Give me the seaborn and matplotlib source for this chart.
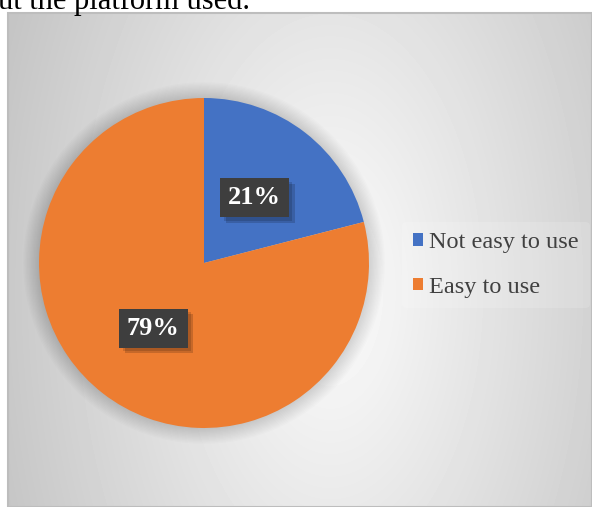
import numpy as np
import matplotlib
matplotlib.use("Agg")
import matplotlib.pyplot as plt
import seaborn as sns
from matplotlib.patches import Circle, Rectangle
import matplotlib.patheffects as pe

categories = ["Not easy to use", "Easy to use"]
values = [21, 79]
colors = ["#4472C4", "#ED7D31"]

sns.set_theme(style="white")
plt.rcParams['font.family'] = ['Liberation Serif', 'DejaVu Serif']

W, H = 592, 507
fig = plt.figure(figsize=(W / 100, H / 100), dpi=100)
fig.patch.set_facecolor("white")

# chart area background with radial gradient
x0, y0 = 8, 13
bg = fig.add_axes([x0 / W, 0, (W - x0) / W, (H - y0) / H])
yy, xx = np.mgrid[y0:H, x0:W]
cx, cy, rx, ry = 330, 290, 320, 580
t = np.sqrt(((xx - cx) / rx) ** 2 + ((yy - cy) / ry) ** 2)
t = np.clip(t / 1.1, 0, 1)
lo, hi = 0.77, 0.99
img = hi - (hi - lo) * t
bg.imshow(img, cmap="gray", vmin=0, vmax=1, aspect="auto",
          extent=[0, 1, 0, 1], interpolation="bilinear")
bg.set_xlim(0, 1)
bg.set_ylim(0, 1)
bg.axis("off")
bg.add_patch(Rectangle((0, 0), 1, 1, transform=bg.transAxes, fill=False,
                       edgecolor="#bdbdbd", linewidth=1.5, clip_on=False))

# caption fragment above chart
fig.text(-0.004, 1 - 9 / H, "ut the platform used.", fontsize=22,
         color="black", va="baseline", ha="left")

# pie
pcx, pcy, r = 204, H - 263, 165
ax = fig.add_axes([(pcx - r) / W, (pcy - r) / H, 2 * r / W, 2 * r / H])
ax.set_facecolor("none")
for i in range(12):
    ax.add_patch(Circle((0.0, 0.0), 1.0 + 0.008 * (12 - i), color="black",
                        alpha=0.012, linewidth=0, zorder=0, clip_on=False))
wedges, texts, autotexts = ax.pie(values, colors=colors, startangle=90,
                                  counterclock=False, autopct="%1.0f%%",
                                  pctdistance=0.5,
                                  wedgeprops=dict(linewidth=0))
ax.set_xlim(-1, 1)
ax.set_ylim(-1, 1)
ax.set_aspect("equal")
ax.axis("off")

for at in autotexts:
    at.set_fontsize(19)
    at.set_fontweight("bold")
    at.set_color("white")
    at.set_bbox(dict(boxstyle="square,pad=0.3", facecolor="#3e3e3e",
                     linewidth=0))
    at.get_bbox_patch().set_path_effects([
        pe.SimplePatchShadow(offset=(4, -4), shadow_rgbFace="black", alpha=0.16),
        pe.SimplePatchShadow(offset=(2.5, -2.5), shadow_rgbFace="black", alpha=0.14),
        pe.Normal()])
    at.set_zorder(5)

leg = fig.legend(wedges, categories, loc="center left",
                 bbox_to_anchor=(402 / W, 1 - 265 / H), fontsize=17.5,
                 handlelength=0.42, handleheight=0.42, handletextpad=0.25,
                 labelspacing=0.95, frameon=True, borderpad=0.45,
                 borderaxespad=0)
leg.get_frame().set_facecolor("white")
leg.get_frame().set_alpha(0.15)
leg.get_frame().set_linewidth(0)
for tx in leg.get_texts():
    tx.set_color("#404040")

fig.savefig("out.png", dpi=100)
